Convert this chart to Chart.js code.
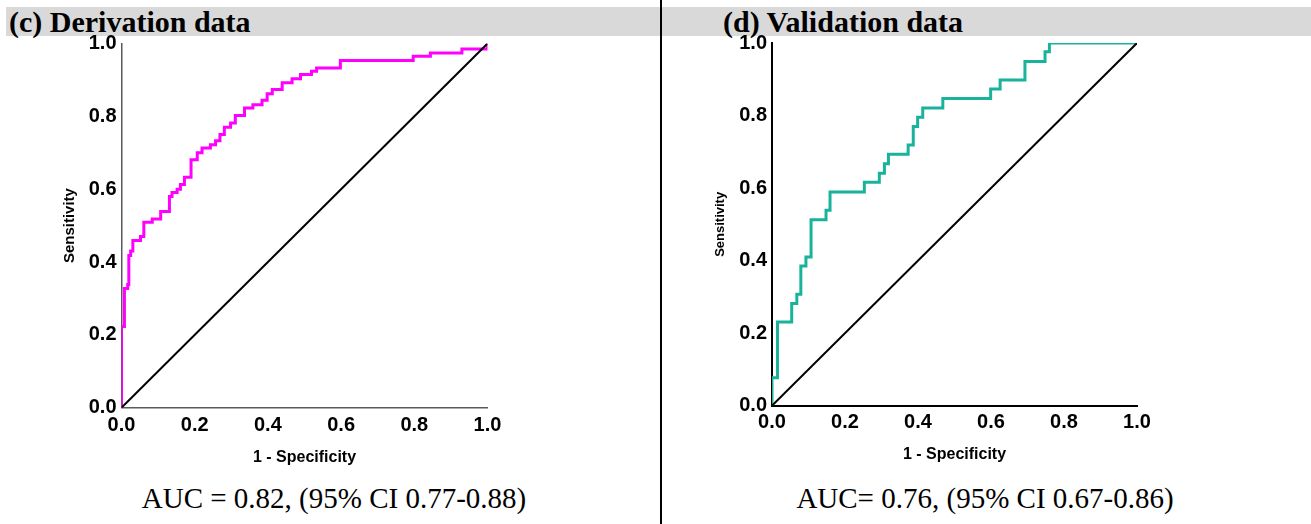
<!DOCTYPE html>
<html>
<head>
<meta charset="utf-8">
<script src="https://cdn.jsdelivr.net/npm/chart.js@4.4.1/dist/chart.umd.min.js"></script>
<style>
  html, body { margin: 0; padding: 0; background: #fff; }
  #page { position: relative; width: 1311px; height: 524px; overflow: hidden; background: #fff; }
  .band { position: absolute; left: 6px; top: 7px; width: 1305px; height: 29px; background: #d9d9d9; }
  .divider { position: absolute; left: 660px; top: 0px; width: 2px; height: 524px; background: #000; }
  .panel-title { position: absolute; font-family: 'Liberation Serif', 'Times New Roman', serif; font-weight: bold;
                 font-size: 30px; line-height: 30px; white-space: nowrap; color: #000; }
  .auc { position: absolute; width: 440px; text-align: center; font-family: 'Liberation Serif', 'Times New Roman', serif;
         font-size: 29px; line-height: 29px; white-space: nowrap; color: #000; }
  canvas { position: absolute; top: 0; }
</style>
</head>
<body>
<div id="page">
  <div class="band"></div>
  <div class="panel-title" style="left:9px; top:7px;">(c) Derivation data</div>
  <div class="panel-title" style="left:723px; top:7px;">(d) Validation data</div>
  <canvas id="derivation" width="660" height="475" style="left:0px;"></canvas>
  <canvas id="validation" width="649" height="475" style="left:662px;"></canvas>
  <div class="divider"></div>
  <div class="auc" style="left:114px; top:483.5px;">AUC = 0.82, (95% CI 0.77-0.88)</div>
  <div class="auc" style="left:765px; top:483.5px;">AUC= 0.76, (95% CI 0.67-0.86)</div>
</div>
<script>
// ROC curve of the derivation cohort (1 - specificity, sensitivity)
const derivationFpr = [0, 0, 0.008, 0.017, 0.020, 0.025, 0.031, 0.052, 0.061, 0.084, 0.107, 0.131, 0.138,
  0.152, 0.161, 0.172, 0.190, 0.207, 0.220, 0.243, 0.257, 0.269, 0.281, 0.298, 0.311, 0.336, 0.359,
  0.384, 0.398, 0.412, 0.439, 0.466, 0.489, 0.519, 0.533, 0.598, 0.797, 0.844, 0.930, 1.0];
const derivationTpr = [0, 0.223, 0.327, 0.338, 0.418, 0.430, 0.459, 0.470, 0.509, 0.518, 0.539, 0.580, 0.591,
  0.600, 0.613, 0.633, 0.681, 0.700, 0.713, 0.722, 0.733, 0.750, 0.770, 0.782, 0.802, 0.823, 0.832,
  0.844, 0.862, 0.874, 0.892, 0.903, 0.915, 0.924, 0.933, 0.953, 0.965, 0.974, 0.985, 1.0];

// ROC curve of the validation cohort
const validationFpr = [0, 0, 0.015, 0.054, 0.068, 0.079, 0.093, 0.107, 0.148, 0.159, 0.253, 0.294, 0.308,
  0.319, 0.373, 0.387, 0.399, 0.413, 0.468, 0.599, 0.625, 0.693, 0.748, 0.760, 1.0];
const validationTpr = [0, 0.077, 0.231, 0.282, 0.307, 0.385, 0.410, 0.513, 0.539, 0.589, 0.616, 0.641, 0.667,
  0.693, 0.719, 0.770, 0.795, 0.821, 0.847, 0.873, 0.898, 0.949, 0.976, 1.0, 1.0];

// Reference (chance) line
const chanceFpr = [0, 1];
const chanceTpr = [0, 1];

const tickLabels = ['0.0', '0.2', '0.4', '0.6', '0.8', '1.0'];
const xTitle = '1 - Specificity';
const yTitle = 'Sensitivity';

const toPoints = (xs, ys) => xs.map((x, i) => ({ x: x, y: ys[i] }));

function rocChart(canvasId, fpr, tpr, style) {
  const tickFont = { family: "'Liberation Sans', Arial, sans-serif", size: 20, weight: 'bold' };
  return new Chart(document.getElementById(canvasId), {
    type: 'line',
    data: {
      datasets: [
        {
          data: toPoints(chanceFpr, chanceTpr),
          borderColor: '#000', borderWidth: 2, pointRadius: 0, tension: 0
        },
        {
          data: toPoints(fpr, tpr),
          borderColor: style.curveColor, borderWidth: 3, pointRadius: 0,
          stepped: 'before', tension: 0
        }
      ]
    },
    options: {
      responsive: false,
      animation: false,
      events: [],
      layout: { padding: { top: style.padTop, right: style.padRight, left: 0, bottom: 0 } },
      plugins: { legend: { display: false }, tooltip: { enabled: false } },
      scales: {
        x: {
          type: 'linear', min: 0, max: 1,
          grid: { display: false, drawTicks: false },
          border: { display: true, color: style.axisColor, width: style.axisWidth },
          ticks: {
            stepSize: 0.2, padding: style.xTickPad, color: '#000', font: tickFont, maxRotation: 0,
            callback: (v, i) => tickLabels[i]
          },
          title: {
            display: true, text: xTitle, color: '#000',
            font: { family: "'Liberation Sans', Arial, sans-serif", size: 16, weight: 'bold' },
            padding: { top: 0, bottom: style.xTitlePad }
          },
          afterFit: (scale) => { scale.height = style.xAxisHeight; }
        },
        y: {
          type: 'linear', min: 0, max: 1,
          grid: { display: false, drawTicks: false },
          border: { display: true, color: style.axisColor, width: style.axisWidth },
          ticks: {
            stepSize: 0.2, padding: style.yTickPad, color: '#000', font: tickFont,
            callback: (v, i) => tickLabels[i]
          },
          title: {
            display: true, text: yTitle, color: '#000',
            font: { family: "'Liberation Sans', Arial, sans-serif", size: style.yTitleSize, weight: 'bold' },
            padding: { top: style.yTitlePad, bottom: 0 }
          },
          afterFit: (scale) => { scale.width = style.yAxisWidth; }
        }
      }
    }
  });
}

rocChart('derivation', derivationFpr, derivationTpr, {
  curveColor: '#ff00ff', axisColor: '#5a5a5a', axisWidth: 1.5,
  padTop: 43.5, padRight: 172.5, yAxisWidth: 121.5, xAxisHeight: 67.3,
  xTickPad: 5.5, yTickPad: 5, xTitlePad: 8, yTitleSize: 15, yTitlePad: 61
});

rocChart('validation', validationFpr, validationTpr, {
  curveColor: '#19b39c', axisColor: '#000', axisWidth: 2,
  padTop: 43, padRight: 174, yAxisWidth: 110, xAxisHeight: 69.3,
  xTickPad: 5, yTickPad: 5, xTitlePad: 10.4, yTitleSize: 13, yTitlePad: 51
});
</script>
</body>
</html>
